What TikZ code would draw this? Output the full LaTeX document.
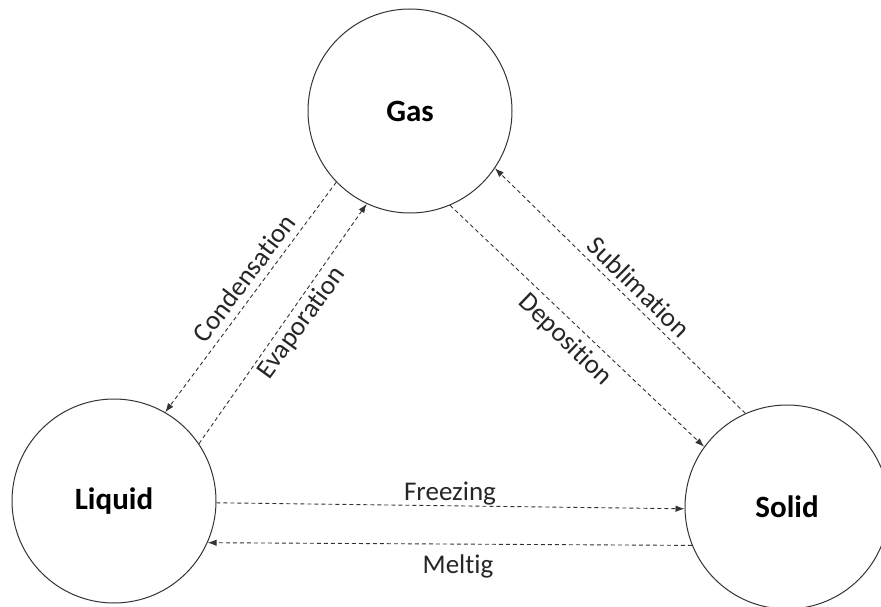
\documentclass[tikz,border=0pt]{standalone}
\usepackage{fontspec}
\setmainfont{Carlito}[RawFeature={-liga}]
\usetikzlibrary{arrows.meta}
\definecolor{linegray}{HTML}{333333}
\definecolor{textgray}{HTML}{262626}
\tikzset{
  phase/.style={circle, draw=linegray, line width=1pt, minimum size=204pt, inner sep=0pt,
    font=\fontsize{31}{36}\selectfont\bfseries, text=black},
  flow/.style={draw=linegray, line width=0.9pt, dash pattern=on 4pt off 3pt,
    -{Latex[length=9pt,width=6.5pt]}},
  lbl/.style={font=\fontsize{27}{31}\selectfont, text=textgray, inner sep=0pt}
}
\begin{document}
\begin{tikzpicture}[x=1pt,y=-1pt]
\useasboundingbox (0,0) rectangle (881,607);
\node[phase] (gas) at (410,111) {Gas};
\node[phase] (liquid) at (114,501) {Liquid};
\node[phase] (solid) at (787,507) {Solid};

\draw[flow] (gas.224.6) -- (liquid.60.3);
\draw[flow] (liquid.34.9) -- (gas.245);
\draw[flow] (gas.293.6) -- (solid.144.2);
\draw[flow] (solid.114.6) -- (gas.326.6);
\draw[flow] (liquid.-1) -- (solid.181);
\draw[flow] (solid.202) -- (liquid.-24);

\node[lbl, rotate=53] (condlbl) at (244,278) {Condensation};
\node[lbl, rotate=54] (evaplbl) at (302,323) {Evaporation};
\node[lbl, rotate=-44.5] (sublbl) at (639,287) {Sublimation};
\node[lbl, rotate=-44] (deplbl) at (565,340) {Deposition};
\node[lbl] (freezlbl) at (450,494) {Freezing};
\node[lbl] (meltlbl) at (458,566) {Meltig};
\end{tikzpicture}
\end{document}
